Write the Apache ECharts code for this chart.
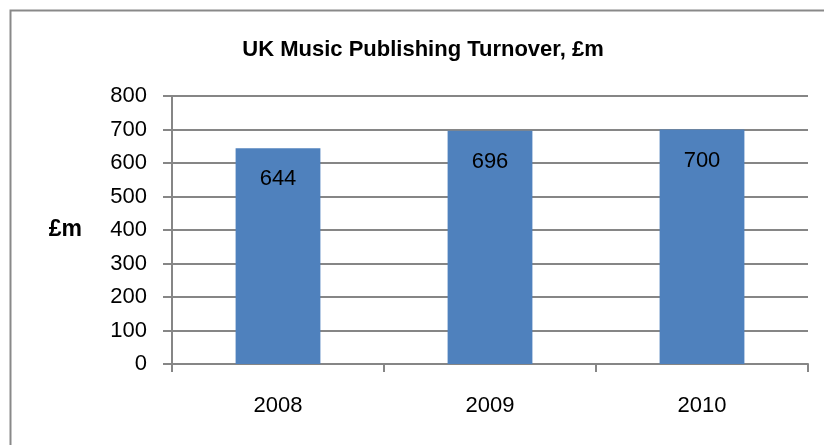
<!DOCTYPE html>
<html><head><meta charset="utf-8">
<script src="https://cdn.jsdelivr.net/npm/echarts@6/dist/echarts.min.js"></script>
<style>html,body{margin:0;padding:0;background:#fff}#c{width:824px;height:445px}</style>
</head><body><div id="c"></div>
<script>
const titleText = 'UK Music Publishing Turnover, £m';
const yAxisName = '£m';
const categories = ['2008', '2009', '2010'];
const turnover = [644, 696, 700];
const yTicks = [0, 100, 200, 300, 400, 500, 600, 700, 800];

const FONT = '"Liberation Sans", Arial, sans-serif';
const chart = echarts.init(document.getElementById('c'), null, {renderer: 'canvas'});
chart.setOption({
  animation: false,
  backgroundColor: '#fff',
  graphic: [{
    type: 'rect', left: 8, top: 8, shape: {width: 840, height: 460},
    style: {fill: 'none', stroke: '#898989', lineWidth: 2}, z: 100
  }],
  title: {
    text: titleText, left: 418, top: 34, textAlign: 'center',
    textStyle: {fontFamily: FONT, fontSize: 22, fontWeight: 'bold', color: '#000'}
  },
  grid: {left: 172, right: 16, top: 96, bottom: 81},
  xAxis: {
    type: 'category', data: categories, boundaryGap: true,
    axisLine: {lineStyle: {color: '#868686', width: 2}},
    axisTick: {show: true, length: 8, alignWithLabel: false, lineStyle: {color: '#868686', width: 2}},
    axisLabel: {margin: 31, fontFamily: FONT, fontSize: 22, color: '#000'}
  },
  yAxis: {
    type: 'value', min: yTicks[0], max: yTicks[yTicks.length - 1], interval: 100,
    name: yAxisName, nameLocation: 'middle', nameRotate: 0, nameGap: 90,
    nameTextStyle: {fontFamily: FONT, fontSize: 23, fontWeight: 'bold', color: '#000'},
    axisLine: {show: true, lineStyle: {color: '#868686', width: 2}},
    axisTick: {show: true, length: 9, lineStyle: {color: '#868686', width: 2}},
    axisLabel: {margin: 25, fontFamily: FONT, fontSize: 22, color: '#000'},
    splitLine: {lineStyle: {color: '#868686', width: 2}}
  },
  series: [{
    type: 'bar', data: turnover, barWidth: '40%',
    itemStyle: {color: '#4F81BD'},
    label: {show: true, position: 'insideTop', distance: 20,
      fontFamily: FONT, fontSize: 22, color: '#000'}
  }]
});
</script></body></html>
